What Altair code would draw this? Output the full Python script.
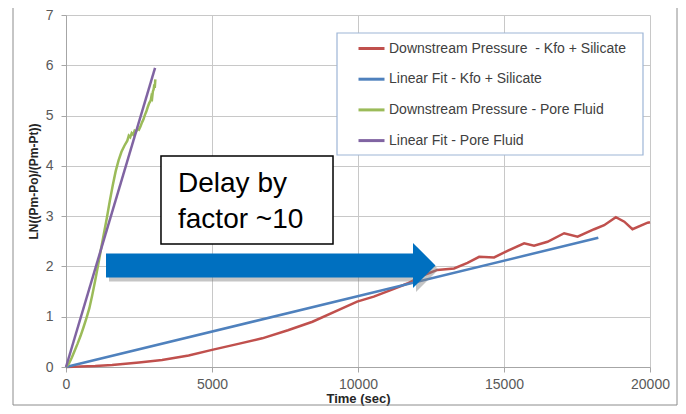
import altair as alt
import pandas as pd

# ---- data ----
series_names = [
    "Downstream Pressure  - Kfo + Silicate",
    "Linear Fit - Kfo + Silicate",
    "Downstream Pressure - Pore Fluid",
    "Linear Fit - Pore Fluid",
]
series_colors = ["#C0504D", "#4F81BD", "#9BBB59", "#8064A2"]

red_x = [0, 1000, 1580, 2500, 3290, 4200, 5000, 5900, 6720, 7600, 8440, 9400, 9970,
         10540, 11120, 11690, 12260, 12720, 13290, 13750, 14150, 14660, 15120, 15690,
         16030, 16490, 17060, 17520, 18090, 18430, 18830, 19120, 19400, 19920, 20000]
red_y = [0, 0.02, 0.04, 0.09, 0.14, 0.23, 0.34, 0.46, 0.57, 0.73, 0.90, 1.15, 1.30,
         1.40, 1.53, 1.66, 1.83, 1.93, 1.96, 2.07, 2.19, 2.18, 2.31, 2.46,
         2.41, 2.49, 2.66, 2.59, 2.74, 2.82, 2.98, 2.89, 2.74, 2.87, 2.88]

blue_x = [0, 18230]
blue_y = [0, 2.57]

green_x = [0, 100, 200, 300, 400, 500, 600, 700, 800, 900, 1000, 1100, 1200, 1300,
           1400, 1500, 1600, 1700, 1800, 1900, 2000, 2100, 2150, 2200, 2250, 2300,
           2350, 2400, 2450, 2500, 2550, 2600, 2650, 2700, 2750, 2800, 2850, 2900,
           2925, 2950, 2975, 3000, 3025, 3040, 3060]
green_y = [0, 0.07, 0.19, 0.33, 0.47, 0.62, 0.79, 0.97, 1.17, 1.43, 1.72, 2.03, 2.35,
           2.66, 2.97, 3.30, 3.61, 3.89, 4.11, 4.28, 4.40, 4.50, 4.60, 4.57, 4.65,
           4.62, 4.70, 4.68, 4.74, 4.72, 4.78, 4.86, 4.92, 5.01, 5.08, 5.17, 5.25,
           5.30, 5.38, 5.35, 5.48, 5.52, 5.62, 5.55, 5.72]

purple_x = [0, 3050]
purple_y = [0, 5.95]

x_ticks = [0, 5000, 10000, 15000, 20000]
y_ticks = [0, 1, 2, 3, 4, 5, 6, 7]

note_lines = ["Delay by", "factor ~10"]
note_line_y = [3.48, 2.764]
note_text_x = [3836, 3836]
note_box_x = [3253, 9144]
note_box_y = [4.196, 2.446]

arrow_x = [1370, 11884]
arrow_y = [2.02]

legend_box_x = [9281, 19760]
legend_box_y = [6.642, 4.216]

# ---- build tables ----
rows = []
for name, xs_, ys_ in zip(series_names,
                          [red_x, blue_x, green_x, purple_x],
                          [red_y, blue_y, green_y, purple_y]):
    for i, (a, b) in enumerate(zip(xs_, ys_)):
        rows.append({"t": a, "v": b, "series": name, "idx": i})
df = pd.DataFrame(rows)

FONT = "Liberation Sans"
xs = alt.Scale(domain=[0, 20000], nice=False, zero=False)
ys = alt.Scale(domain=[0, 7], nice=False, zero=False)

lines = alt.Chart(df).mark_line(strokeWidth=2.5).encode(
    x=alt.X("t:Q", scale=xs, axis=alt.Axis(
        values=x_ticks, title="Time (sec)", labelFlush=False, format="d",
        labelFontSize=14, labelColor="#595959", labelFont=FONT, labelPadding=5,
        titleFont=FONT, titleFontSize=13, titleFontWeight="bold", titleColor="#262626",
        titleY=31, titleBaseline="middle",
        gridColor="#C8C8C8", domainColor="#A6A6A6", tickColor="#A6A6A6", tickSize=5)),
    y=alt.Y("v:Q", scale=ys, axis=alt.Axis(
        values=y_ticks, title="LN((Pm-Po)/(Pm-Pt))", labelFlush=False, format="d",
        labelFontSize=14, labelColor="#595959", labelFont=FONT, labelPadding=8,
        titleFont=FONT, titleFontSize=12, titleFontWeight="bold", titleColor="#262626",
        titleX=-33, titleY=166, titleAngle=270, titleAlign="center", titleBaseline="middle",
        gridColor="#C8C8C8", domainColor="#A6A6A6", tickColor="#A6A6A6", tickSize=5)),
    color=alt.Color("series:N", scale=alt.Scale(domain=series_names, range=series_colors),
                    legend=alt.Legend(
                        title=None, orient="none", legendX=291, legendY=19,
                        symbolType="stroke", symbolStrokeWidth=3, symbolSize=676,
                        labelFont=FONT, labelFontSize=14, labelColor="#404040",
                        labelOffset=3, rowPadding=8.7, padding=0, labelLimit=400,
                        labelExpr="replace(datum.label, '  ', '\u00a0 ')")),
    order="idx:Q",
)

one = pd.DataFrame({"x1": [legend_box_x[0]], "x2": [legend_box_x[1]],
                    "y1": [legend_box_y[0]], "y2": [legend_box_y[1]]})
legend_box = alt.Chart(one).mark_rect(fill="white", stroke="#9DB5D6", strokeWidth=1.2).encode(
    x="x1:Q", x2="x2:Q", y="y1:Q", y2="y2:Q")

nb = pd.DataFrame({"x1": [note_box_x[0]], "x2": [note_box_x[1]],
                   "y1": [note_box_y[0]], "y2": [note_box_y[1]]})
note_box = alt.Chart(nb).mark_rect(fill="white", stroke="black", strokeWidth=1.5).encode(
    x="x1:Q", x2="x2:Q", y="y1:Q", y2="y2:Q")

nt = pd.DataFrame({"x": note_text_x, "y": note_line_y, "txt": note_lines})
note_text = alt.Chart(nt).mark_text(align="left", baseline="alphabetic", font=FONT,
                                    fontSize=28, color="black").encode(
    x="x:Q", y="y:Q", text="txt:N")

ar = pd.DataFrame({"x1": [arrow_x[0]], "x2": [arrow_x[1]], "y": arrow_y})
shadow = alt.Chart(ar).mark_rule(strokeWidth=24, color="#7F7F7F", opacity=0.45,
                                 strokeCap="butt", xOffset=3, yOffset=4).encode(
    x="x1:Q", x2="x2:Q", y="y:Q")
shadow_head = alt.Chart(ar).mark_point(shape="M0,-1L1,0L0,1Z", size=2025, filled=True,
                                       color="#7F7F7F", opacity=0.45, xOffset=3, yOffset=4).encode(
    x="x2:Q", y="y:Q")
shaft = alt.Chart(ar).mark_rule(strokeWidth=24, color="#0070C0", strokeCap="butt").encode(
    x="x1:Q", x2="x2:Q", y="y:Q")
head = alt.Chart(ar).mark_point(shape="M0,-1L1,0L0,1Z", size=2025, filled=True,
                                color="#0070C0", opacity=1).encode(
    x="x2:Q", y="y:Q")

border = alt.Chart(one).mark_rect(fill="transparent", stroke="#8C8C8C", strokeWidth=1).encode(
    x=alt.value(-53), x2=alt.value(611), y=alt.value(-10), y2=alt.value(390))

chart = alt.layer(
    lines, legend_box, note_box, note_text, shadow, shadow_head, shaft, head, border
).properties(
    width=584, height=352,
    autosize=alt.AutoSizeParams(type="none"),
    padding={"left": 58, "top": 7, "right": 28, "bottom": 39},
).configure_view(strokeWidth=0)

chart.save("out.html", embed_options={"renderer": "svg", "actions": False})
